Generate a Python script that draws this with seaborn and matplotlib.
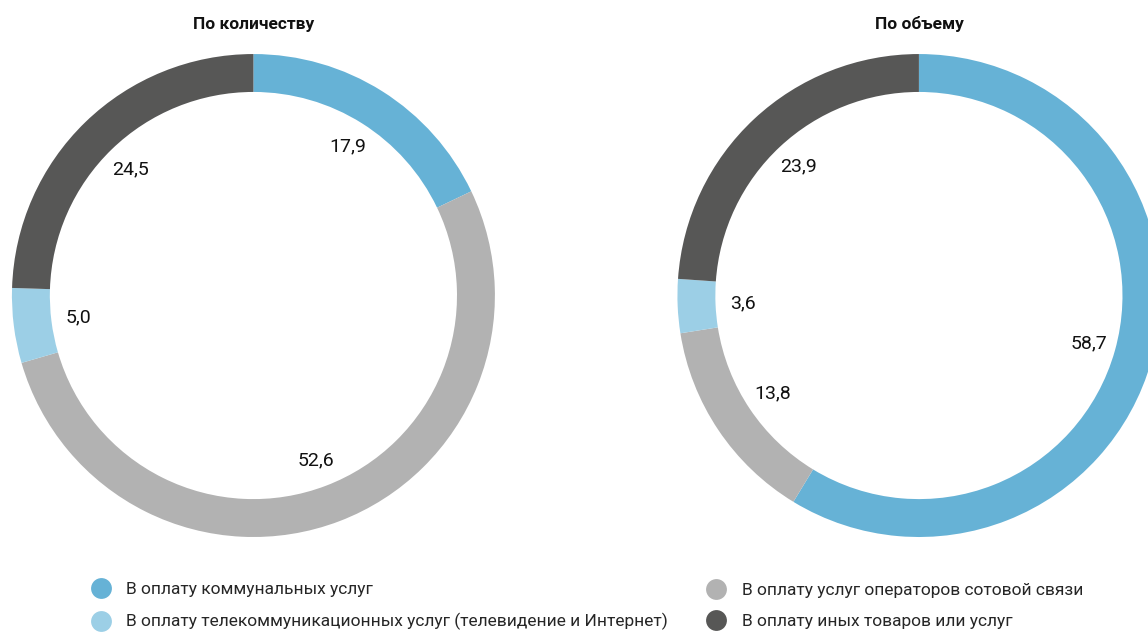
import matplotlib
matplotlib.use("Agg")
import matplotlib.pyplot as plt
from matplotlib.lines import Line2D
import seaborn as sns

sns.set_theme(style="white")
plt.rcParams['font.family'] = ['Roboto', 'DejaVu Sans']

categories = [
    "В оплату коммунальных услуг",
    "В оплату услуг операторов сотовой связи",
    "В оплату телекоммуникационных услуг (телевидение и Интернет)",
    "В оплату иных товаров или услуг",
]
by_count = [17.9, 52.6, 5.0, 24.5]
by_volume = [58.7, 13.8, 3.6, 23.9]
titles = ["По количеству", "По объему"]
colors = sns.color_palette(["#66b2d6", "#b2b2b2", "#9ccfe6", "#575756"])

fig = plt.figure(figsize=(11.48, 6.32), dpi=100)
ax1 = fig.add_axes([0.0104, 0.1503, 0.4207, 0.7642])
ax2 = fig.add_axes([0.5901, 0.1503, 0.4207, 0.7642])

for ax, vals, title, cx in [(ax1, by_count, titles[0], 0.2208), (ax2, by_volume, titles[1], 0.8005)]:
    wedges, texts = ax.pie(vals, colors=colors, startangle=90, counterclock=False,
                           labels=[f"{v:.1f}".replace(".", ",") for v in vals],
                           labeldistance=0.73,
                           wedgeprops=dict(width=0.157, linewidth=0),
                           textprops=dict(fontsize=14, color="#111111"))
    for t in texts:
        t.set_ha("center")
        t.set_va("center")
    ax.set_xlim(-1, 1)
    ax.set_ylim(-1, 1)
    ax.set_aspect("equal")
    ax.axis("off")
    fig.text(cx, 0.962, title, ha="center", va="center", fontsize=12.5, fontweight="bold", color="#111111")

def handle(c):
    return Line2D([], [], marker="o", linestyle="none", markersize=15, markerfacecolor=c, markeredgewidth=0)

leg_kw = dict(loc="center left", frameon=False, fontsize=12.5, handlelength=1.0, handletextpad=0.95,
              labelspacing=0.95, borderpad=0, borderaxespad=0)
leg1 = fig.legend([handle(colors[0]), handle(colors[2])], [categories[0], categories[2]],
                  bbox_to_anchor=(0.0807, 0.0411), **leg_kw)
leg2 = fig.legend([handle(colors[1]), handle(colors[3])], [categories[1], categories[3]],
                  bbox_to_anchor=(0.6165, 0.0411), **leg_kw)

fig.savefig("out.png", dpi=100)
